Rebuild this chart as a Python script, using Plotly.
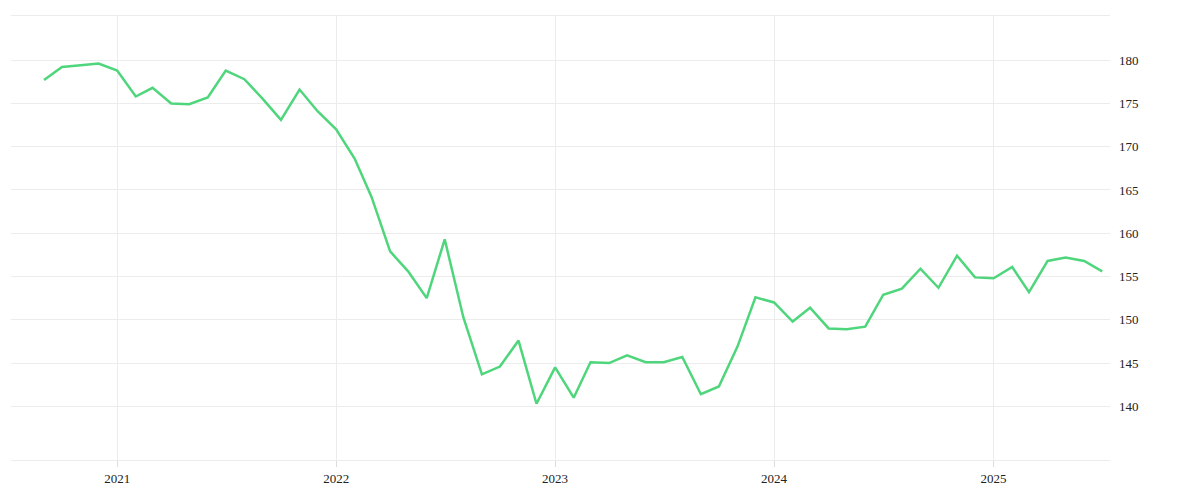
import plotly.graph_objects as go
import pandas as pd

dates = pd.date_range("2020-09-01", "2025-07-01", freq="MS")
values = [177.7,179.2,179.4,179.6,178.8,175.8,176.8,175.0,174.9,175.7,178.8,177.8,
          175.5,173.1,176.6,174.1,172.0,168.6,164.2,157.9,155.6,152.5,159.3,150.3,
          143.7,144.6,147.6,140.3,144.5,141.0,145.1,145.0,145.9,145.1,145.1,145.7,
          141.4,142.3,146.9,152.6,152.0,149.8,151.4,149.0,148.9,149.2,152.9,153.6,
          155.9,153.7,157.4,154.9,154.8,156.1,153.2,156.8,157.2,156.8,155.6]
ytick_vals = [140,145,150,155,160,165,170,175,180]

fig = go.Figure(go.Scatter(x=dates, y=values, mode="lines",
                           line=dict(color="#4fd67c", width=2.5)))
fig.update_layout(
    width=1200, height=500, margin=dict(l=3, r=98, t=8, b=48),
    plot_bgcolor="white", paper_bgcolor="white", showlegend=False,
    font=dict(family="Liberation Serif", size=13, color="#222"),
    xaxis=dict(range=["2020-07-08", "2025-07-14"], showgrid=True, gridcolor="#ececec",
               tickvals=["2021-01-01","2022-01-01","2023-01-01","2024-01-01","2025-01-01"],
               ticktext=["2021","2022","2023","2024","2025"], ticks="outside", ticklen=6,
               tickcolor="#ddd", showline=True, linecolor="#ececec", mirror=True, zeroline=False),
    yaxis=dict(side="right", range=[133.8, 185.1], tickvals=ytick_vals,
               showgrid=True, gridcolor="#ececec", zeroline=False, ticks="", ticklabelstandoff=8),
)
fig.write_html("out.html")
